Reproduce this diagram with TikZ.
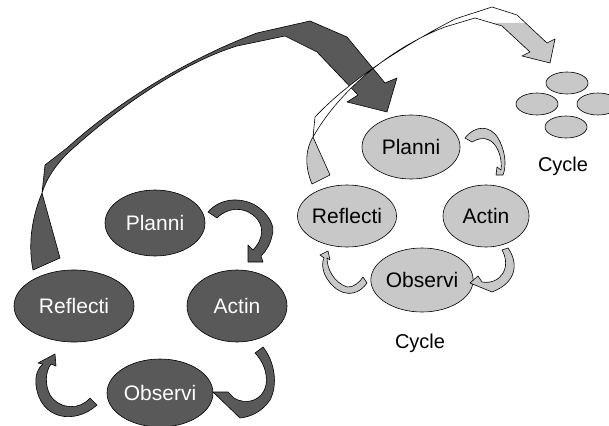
\documentclass[tikz,border=0pt]{standalone}
\usepackage{fontspec}
\setmainfont{Liberation Sans}
\usetikzlibrary{shapes.geometric}
\definecolor{cycdark}{RGB}{89,89,89}
\definecolor{cyclight}{RGB}{200,200,200}

\begin{document}
\begin{tikzpicture}[x=1pt,y=1pt,yscale=-1,
    stage/.style={ellipse, draw, line width=0.6pt, inner sep=0pt, font=\fontsize{21}{25}\selectfont},
    darkstage/.style={stage, fill=cycdark, text=white},
    lightstage/.style={stage, fill=cyclight, text=black},
    minicirc/.style={ellipse, draw, line width=0.6pt, fill=cyclight, minimum width=42pt, minimum height=22pt},
    darkribbon/.style={draw, fill=cycdark, line width=0.6pt, line join=round},
    lightribbon/.style={draw, fill=cyclight, line width=0.6pt, line join=round},
    cyclelabel/.style={font=\fontsize{20}{24}\selectfont}]
    \useasboundingbox (0,0) rectangle (609,425);

    %Big ribbon: first cycle to second cycle
    \draw[darkribbon] (33,270) .. controls (27,240) and (34,212) .. (42,193) -- (45,165) -- (67,148) .. controls (120,100) and (190,58) .. (257,33) -- (310,21) -- (347,37) -- (385,83) -- (397,78) -- (387,112) -- (347,102) -- (358,95) -- (317,52) -- (285,36) -- (237,46) .. controls (185,62) and (122,104) .. (70,151) .. controls (55,165) and (46,180) .. (42,193) -- (60,258) -- cycle ;

    %Big ribbon: second cycle to next cycle
    \path[fill=white] (312,184) .. controls (304,165) and (306,148) .. (313,137) -- (315,117) .. controls (345,85) and (395,50) .. (455,19) -- (492,7) -- (517,15) -- (547,43) -- (555,39) -- (550,63) -- (522,56) -- (530,52) -- (502,26) -- (475,18) -- (445,27) .. controls (397,45) and (342,86) .. (313,137) -- (330,175) -- cycle ;
    \fill[cyclight] (312,184) .. controls (304,165) and (306,148) .. (313,137) -- (330,175) -- cycle ;
    \fill[cyclight] (492,23) -- (525,23) -- (547,43) -- (555,39) -- (550,63) -- (522,56) -- (530,52) -- (502,26) -- cycle ;
    \draw[line width=0.6pt, line join=round] (312,184) .. controls (304,165) and (306,148) .. (313,137) -- (315,117) .. controls (345,85) and (395,50) .. (455,19) -- (492,7) -- (517,15) -- (547,43) -- (555,39) -- (550,63) -- (522,56) -- (530,52) -- (502,26) -- (475,18) -- (445,27) .. controls (397,45) and (342,86) .. (313,137) -- (330,175) -- cycle ;

    %First cycle
    \node[darkstage, minimum width=100pt, minimum height=66pt] (plan1) at (155,223) {Planni};
    \node[darkstage, minimum width=120pt, minimum height=72pt] (refl1) at (74,306) {Reflecti};
    \node[darkstage, minimum width=100pt, minimum height=72pt] (act1) at (237,306) {Actin};
    \node[darkstage, minimum width=106pt, minimum height=68pt] (obs1) at (160,393) {Observi};

    %First cycle ribbons
    \draw[darkribbon] (208,212) .. controls (220,198) and (240,197) .. (255,205) .. controls (268,213) and (276,226) .. (272,236) .. controls (270,245) and (266,251) .. (261,256) -- (263,262) -- (248,262) -- (248,245) -- (253,250) .. controls (263,240) and (266,225) .. (253,215) .. controls (243,207) and (228,207) .. (217,218) -- cycle ;
    \draw[darkribbon] (263,347) .. controls (275,362) and (278,385) .. (270,400) .. controls (262,412) and (250,417) .. (240,418) -- (213,392) -- (228,392) -- (234,398) .. controls (245,405) and (262,402) .. (266,385) .. controls (268,372) and (262,360) .. (255,353) -- cycle ;
    \draw[darkribbon] (97,405) .. controls (75,425) and (40,420) .. (36,385) .. controls (35,375) and (38,368) .. (43,364) -- (38,363) -- (55,354) -- (56,366) -- (51,364) .. controls (45,372) and (45,385) .. (50,395) .. controls (60,410) and (80,410) .. (90,398) -- cycle ;

    %Second cycle
    \node[lightstage, minimum width=98pt, minimum height=64pt] (plan2) at (411,147) {Planni};
    \node[lightstage, minimum width=96pt, minimum height=62pt] (refl2) at (347,216) {Reflecti};
    \node[lightstage, minimum width=86pt, minimum height=62pt] (act2) at (486,216) {Actin};
    \node[lightstage, minimum width=100pt, minimum height=64pt] (obs2) at (422,280) {Observi};
    \node[cyclelabel] (cyc2) at (420,343) {Cycle};

    %Second cycle ribbons
    \draw[lightribbon] (465,138) .. controls (475,125) and (490,125) .. (498,138) .. controls (505,150) and (507,165) .. (503,175) -- (496,175) -- (497,167) -- (501,170) .. controls (503,152) and (492,130) .. (472,142) -- cycle ;
    \draw[lightribbon] (508,248) .. controls (518,262) and (518,282) .. (492,292) -- (470,283) -- (478,276) -- (482,282) .. controls (500,285) and (512,268) .. (502,250) -- cycle ;
    \draw[lightribbon] (367,283) .. controls (355,300) and (335,295) .. (325,275) .. controls (322,268) and (322,262) .. (324,258) -- (320,255) -- (328,251) -- (330,260) -- (327,258) .. controls (327,268) and (333,282) .. (347,287) .. controls (353,288) and (360,282) .. (363,277) -- cycle ;

    %Next cycle
    \node[minicirc] (nxtop) at (567,83) {};
    \node[minicirc] (nxleft) at (537,104) {};
    \node[minicirc] (nxright) at (598,104) {};
    \node[minicirc] (nxbot) at (566,127) {};
    \node[cyclelabel] (cyc3) at (563,166) {Cycle};
\end{tikzpicture}
\end{document}
